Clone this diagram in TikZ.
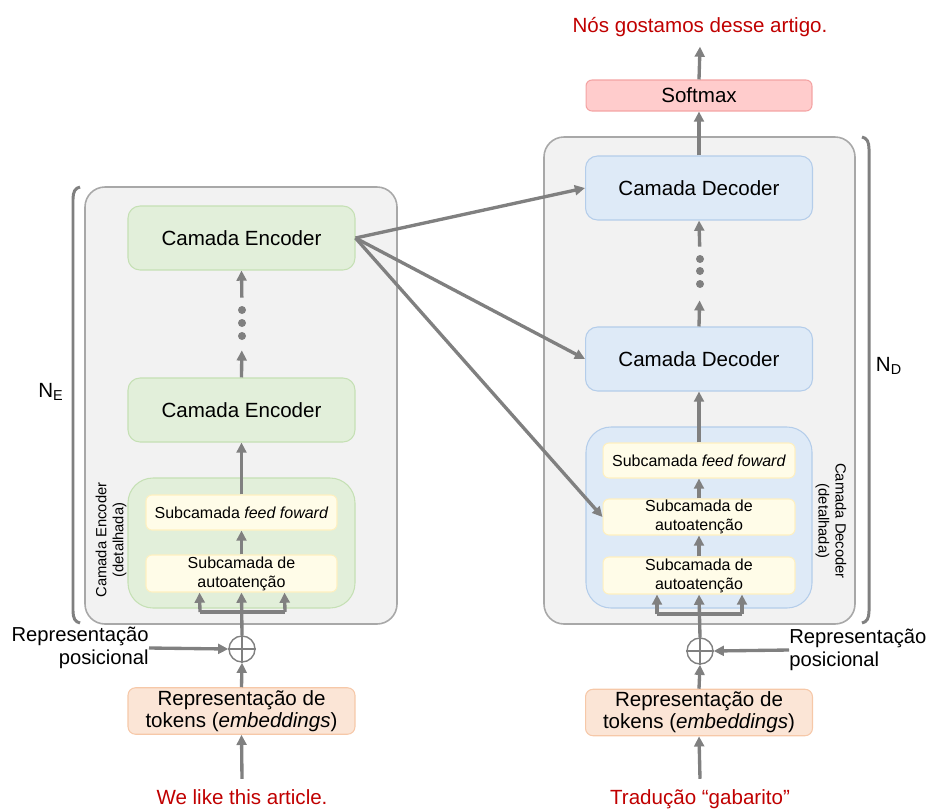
\documentclass[tikz,border=0pt]{standalone}
\usepackage{fontspec}
\setmainfont{Liberation Sans}
\usetikzlibrary{arrows.meta,calc}
\definecolor{cinzafundo}{HTML}{F2F2F2}
\definecolor{bordacinza}{HTML}{A8A8A8}
\definecolor{setacinza}{HTML}{808080}
\definecolor{verde}{HTML}{E2EFDA}
\definecolor{bordaverde}{HTML}{C5E0B4}
\definecolor{azul}{HTML}{DEEAF7}
\definecolor{bordaazul}{HTML}{B4CDEA}
\definecolor{amarelo}{HTML}{FFFCE8}
\definecolor{bordaamarela}{HTML}{FFF0C0}
\definecolor{laranja}{HTML}{FBE5D6}
\definecolor{bordalaranja}{HTML}{F6C8A8}
\definecolor{rosa}{HTML}{FFCCCC}
\definecolor{bordarosa}{HTML}{F4A3A3}
\definecolor{vermelho}{HTML}{C00000}
\newcommand{\fonteprincipal}{\fontsize{11.7}{12.5}\selectfont}
\newcommand{\fontepos}{\fontsize{11.5}{12.8}\selectfont}
\newcommand{\fontesub}{\fontsize{9.1}{10.8}\selectfont}
\newcommand{\fonterot}{\fontsize{8.4}{9.7}\selectfont}
\tikzset{
  caixa/.style={draw=bordacinza, fill=cinzafundo, line width=0.9pt, rounded corners=0.4cm},
  camada/.style={rounded corners=0.24cm, minimum width=4.54cm, minimum height=1.28cm,
    font=\fonteprincipal, line width=0.6pt, inner sep=0pt},
  camadaenc/.style={camada, draw=bordaverde, fill=verde},
  camadadec/.style={camada, draw=bordaazul, fill=azul},
  detalhe/.style={rounded corners=0.5cm, line width=0.6pt},
  subcamada/.style={draw=bordaamarela, fill=amarelo, rounded corners=0.12cm, line width=0.6pt,
    minimum width=3.82cm, minimum height=0.72cm, font=\fontesub, align=center, inner sep=0pt},
  embed/.style={draw=bordalaranja, fill=laranja, rounded corners=0.15cm, line width=0.6pt,
    minimum width=4.54cm, minimum height=0.93cm, font=\fonteprincipal, align=center, inner sep=0pt},
  rotulo/.style={font=\fonteprincipal, align=center, inner sep=2pt},
  posicional/.style={font=\fontepos, inner sep=0pt},
  frase/.style={font=\fonteprincipal, text=vermelho, anchor=base, inner sep=0.2cm},
  rotvert/.style={font=\fonterot, align=center, inner sep=0pt},
  fluxo/.style={draw=setacinza, line width=1.9pt, -{Triangle[length=5.8pt,width=5.6pt]}},
  traco/.style={draw=setacinza, line width=1.9pt},
  chave/.style={draw=setacinza, line width=1.7pt},
  soma/.style={circle, draw=setacinza, line width=0.8pt, minimum size=0.52cm, inner sep=0pt},
  ponto/.style={circle, fill=setacinza, minimum size=0.16cm, inner sep=0pt},
}

\begin{document}
\begin{tikzpicture}[x=0.02cm, y=-0.02cm]
  \useasboundingbox (0,0) rectangle (929,808);
  %%%%% ENCODER %%%%%
  \draw[caixa] (85,187) rectangle (397,624);
  \draw[detalhe, draw=bordaverde, fill=verde] (128,478) rectangle (355,608);
  \draw[chave] (80,187) .. controls (75,188) and (73,192) .. (73,199) -- (73,611) .. controls (73,618) and (75,622) .. (80,623);
  \node[rotulo] (ne) at (51,392) {N\textsubscript{E}};

  \node[camadaenc] (enc2) at (241.5,238) {Camada Encoder};
  \node[camadaenc] (enc1) at (241.5,410) {Camada Encoder};
  \node[ponto] (encp1) at (242,310) {};
  \node[ponto] (encp2) at (242,323) {};
  \node[ponto] (encp3) at (242,336) {};
  \node[subcamada, minimum height=0.70cm] (encff) at (241.5,512.5) {Subcamada \textit{feed foward}};
  \node[subcamada, minimum height=0.74cm] (encatt) at (241.5,573.5) {Subcamada de\\autoatenção};
  \node[rotvert, rotate=90] (encdet) at (111,540) {Camada Encoder\\(detalhada)};

  \node[soma] (encsum) at (242,649) {};
  \draw[setacinza, line width=0.8pt] (encsum.north) -- (encsum.south) (encsum.west) -- (encsum.east);
  \node[posicional, anchor=east, align=right] (encpos) at (149,648) {Representação\\posicional};
  \node[embed] (encemb) at (241.5,711) {Representação de\\tokens (\textit{embeddings})};
  \node[frase] (encin) at (242,804) {We like this article.};

  \coordinate (encfork) at (242,612);
  \draw[fluxo] (encin.north) -- (encemb.south);
  \draw[fluxo] (encemb.north) -- (encsum.south);
  \draw[fluxo] (encpos.east) -- (encsum.west);
  \draw[fluxo] (encsum.north) -- (encatt.south);
  \draw[traco] ($(encfork)+(-42,0)$) -- ($(encfork)+(43,0)$);
  \draw[fluxo] ($(encfork)+(-42,0)$) -- ($(encatt.south)+(-42,0)$);
  \draw[fluxo] ($(encfork)+(43,0)$) -- ($(encatt.south)+(43,0)$);
  \draw[fluxo] (encatt.north) -- (encff.south);
  \draw[fluxo] (encff.north) -- (enc1.south);
  \draw[fluxo, shorten >=0.2cm] (enc1.north) -- (encp3);
  \draw[fluxo, shorten <=0.16cm] (encp1) -- (enc2.south);

  %%%%% DECODER %%%%%
  \draw[caixa] (544,137) rectangle (855,624);
  \draw[detalhe, draw=bordaazul, fill=azul] (586,427) rectangle (812,608);
  \draw[chave] (862,137) .. controls (867,138) and (869,142) .. (869,149) -- (869,611) .. controls (869,618) and (867,622) .. (862,623);
  \node[rotulo] (nd) at (889,366) {N\textsubscript{D}};

  \node[rotulo, draw=bordarosa, fill=rosa, rounded corners=0.12cm, line width=0.6pt,
    minimum width=4.52cm, minimum height=0.62cm, inner sep=0pt] (softmax) at (699,95.5) {Softmax};
  \node[frase] (decout) at (700,32) {Nós gostamos desse artigo.};
  \node[camadadec] (dec2) at (699,188) {Camada Decoder};
  \node[camadadec] (dec1) at (699,359) {Camada Decoder};
  \node[ponto] (decp1) at (700,259) {};
  \node[ponto] (decp2) at (700,271) {};
  \node[ponto] (decp3) at (700,284) {};
  \node[subcamada, minimum width=3.84cm, minimum height=0.70cm] (decff) at (699,460.5) {Subcamada \textit{feed foward}};
  \node[subcamada, minimum width=3.84cm] (deccross) at (699,517) {Subcamada de\\autoatenção};
  \node[subcamada, minimum width=3.84cm, minimum height=0.74cm] (decatt) at (699,575.5) {Subcamada de\\autoatenção};
  \node[rotvert, rotate=-90] (decdet) at (831,521) {Camada Decoder\\(detalhada)};

  \node[soma] (decsum) at (700,651) {};
  \draw[setacinza, line width=0.8pt] (decsum.north) -- (decsum.south) (decsum.west) -- (decsum.east);
  \node[posicional, anchor=west, align=left] (decpos) at (789,650) {Representação\\posicional};
  \node[embed] (decemb) at (699,712.5) {Representação de\\tokens (\textit{embeddings})};
  \node[frase] (decin) at (700,804) {Tradução “gabarito”};

  \coordinate (decfork) at (700,614);
  \draw[fluxo] (decin.north) -- (decemb.south);
  \draw[fluxo] (decemb.north) -- (decsum.south);
  \draw[fluxo] (decpos.west) -- (decsum.east);
  \draw[fluxo] (decsum.north) -- (decatt.south);
  \draw[traco] ($(decfork)+(-43,0)$) -- ($(decfork)+(42,0)$);
  \draw[fluxo] ($(decfork)+(-43,0)$) -- ($(decatt.south)+(-42,0)$);
  \draw[fluxo] ($(decfork)+(42,0)$) -- ($(decatt.south)+(43,0)$);
  \draw[fluxo] (decatt.north) -- (deccross.south);
  \draw[fluxo] (deccross.north) -- (decff.south);
  \draw[fluxo] (decff.north) -- (dec1.south);
  \draw[fluxo, shorten >=0.24cm] (dec1.north) -- (decp3);
  \draw[fluxo, shorten <=0.16cm] (decp1) -- (dec2.south);
  \draw[fluxo] (dec2.north) -- (softmax.south);
  \draw[fluxo] (softmax.north) -- (decout.south);

  %%%%% ATENCAO CRUZADA %%%%%
  \draw[fluxo] (enc2.east) -- (dec2.west);
  \draw[fluxo] (enc2.east) -- (dec1.west);
  \draw[fluxo] (enc2.east) -- (deccross.west);
\end{tikzpicture}
\end{document}
